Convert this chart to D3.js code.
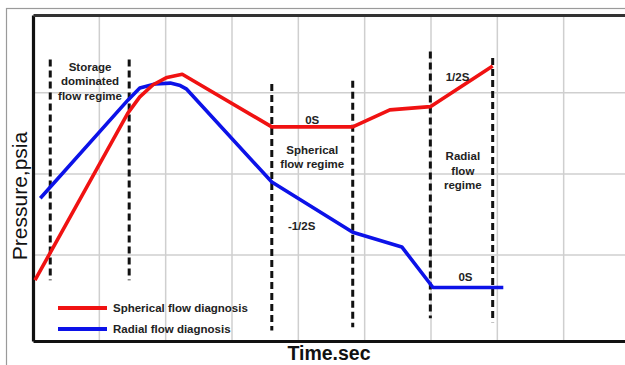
<!DOCTYPE html>
<html>
<head>
<meta charset="utf-8">
<script src="https://cdn.jsdelivr.net/npm/d3@7"></script>
<style>
  body { margin: 0; background: #fff; }
  text { font-family: "Liberation Sans", Arial, sans-serif; }
</style>
</head>
<body>
<script>
// time (grid units) / pressure (grid units)
var sphericalT = [0.03, 1.43, 1.61, 1.81, 2.02, 2.25, 3.60, 4.82, 5.38, 5.99, 6.93];
var sphericalP = [0.69, 2.75, 2.95, 3.10, 3.19, 3.23, 2.58, 2.58, 2.79, 2.83, 3.33];
var radialT = [0.11, 1.43, 1.61, 1.84, 2.07, 2.22, 2.31, 3.60, 4.82, 5.56, 6.03, 7.09];
var radialP = [1.70, 2.91, 3.06, 3.11, 3.12, 3.09, 3.05, 1.90, 1.28, 1.10, 0.60, 0.60];

// regime boundaries: time, top and bottom of the dashed marker
var boundaryT = [0.26, 1.45, 3.60, 4.82, 5.99, 6.93];
var boundaryTop = [3.41, 3.41, 3.11, 3.15, 3.51, 3.43];
var boundaryBottom = [0.69, 0.69, 0.07, 0.11, 0.22, 0.17];

var gridT = [1, 2, 3, 4, 5, 6, 7, 8, 9];
var gridP = [1, 2, 3];

var seriesNames = ["Spherical flow diagnosis", "Radial flow diagnosis"];
var seriesColors = ["#f01212", "#0c12e8"];

// annotations: lines of text, time, pressure of first baseline
var notes = [
  {lines: ["Storage", "dominated", "flow regime"], t: 0.86, p: 3.27},
  {lines: ["0S"], t: 4.21, p: 2.62},
  {lines: ["Spherical", "flow regime"], t: 4.21, p: 2.25},
  {lines: ["-1/2S"], t: 4.05, p: 1.31},
  {lines: ["1/2S"], t: 6.40, p: 3.15},
  {lines: ["Radial", "flow", "regime"], t: 6.48, p: 2.17},
  {lines: ["0S"], t: 6.52, p: 0.68}
];

var W = 625, H = 365;
var svg = d3.select("body").append("svg")
    .attr("width", W)
    .attr("height", H);

var x = d3.scaleLinear().domain([0, 9]).range([33, 630]);
var y = d3.scaleLinear().domain([-0.06, 3.96]).range([341, 15]);

// outer frame
svg.append("rect")
    .attr("x", 6.5).attr("y", 8.5)
    .attr("width", 640).attr("height", 380)
    .style("fill", "none")
    .style("stroke", "#9a9a9a")
    .style("stroke-width", 1.2);

// grid
svg.append("g").selectAll("line").data(gridT).enter().append("line")
    .attr("x1", function(d) { return x(d); })
    .attr("x2", function(d) { return x(d); })
    .attr("y1", y.range()[1]).attr("y2", y.range()[0])
    .style("stroke", "#cfcfcf")
    .style("stroke-width", 1.5);
svg.append("g").selectAll("line").data(gridP).enter().append("line")
    .attr("y1", function(d) { return y(d); })
    .attr("y2", function(d) { return y(d); })
    .attr("x1", x.range()[0]).attr("x2", W)
    .style("stroke", "#cfcfcf")
    .style("stroke-width", 1.5);

// axes (no ticks drawn in the original)
var bottomAxis = svg.append("g")
    .attr("transform", "translate(0," + y.range()[0] + ")")
    .call(d3.axisBottom(x).tickValues([]).tickSizeOuter(0));
var leftAxis = svg.append("g")
    .attr("transform", "translate(" + x.range()[0] + ",0)")
    .call(d3.axisLeft(y).tickValues([]).tickSizeOuter(0));
var topAxis = svg.append("g")
    .attr("transform", "translate(0," + y.range()[1] + ")")
    .call(d3.axisTop(x).tickValues([]).tickSizeOuter(0));
bottomAxis.select(".domain").style("stroke", "#111").style("stroke-width", 3.2);
leftAxis.select(".domain").style("stroke", "#111").style("stroke-width", 3.2);
topAxis.select(".domain").style("stroke", "#333").style("stroke-width", 3);

// regime boundaries
svg.append("g").selectAll("line").data(boundaryT).enter().append("line")
    .attr("x1", function(d) { return x(d); })
    .attr("x2", function(d) { return x(d); })
    .attr("y1", function(d, i) { return y(boundaryTop[i]); })
    .attr("y2", function(d, i) { return y(boundaryBottom[i]); })
    .style("stroke", "#111")
    .style("stroke-width", 3)
    .style("stroke-dasharray", "7,4");

// series
var line = d3.line()
    .x(function(d) { return x(d[0]); })
    .y(function(d) { return y(d[1]); });
var series = [d3.zip(sphericalT, sphericalP), d3.zip(radialT, radialP)];
// draw radial first so the red curve sits on top near the peak
svg.append("path")
    .datum(series[1])
    .attr("d", line)
    .style("fill", "none")
    .style("stroke", seriesColors[1])
    .style("stroke-width", 3.6)
    .style("stroke-linejoin", "round");
svg.append("path")
    .datum(series[0])
    .attr("d", line)
    .style("fill", "none")
    .style("stroke", seriesColors[0])
    .style("stroke-width", 3.6)
    .style("stroke-linejoin", "round");

// annotations
notes.forEach(function(n) {
    var t = svg.append("text")
        .attr("x", x(n.t))
        .attr("y", y(n.p))
        .attr("text-anchor", "middle")
        .style("font-size", "11.5px")
        .style("font-weight", "bold")
        .style("fill", "#222");
    n.lines.forEach(function(s, i) {
        t.append("tspan")
            .attr("x", x(n.t))
            .attr("dy", i === 0 ? 0 : 14.5)
            .text(s);
    });
});

// legend
var legend = svg.append("g").attr("transform", "translate(58,308)");
seriesNames.forEach(function(name, i) {
    legend.append("line")
        .attr("x1", 0).attr("x2", 49)
        .attr("y1", i * 21).attr("y2", i * 21)
        .style("stroke", seriesColors[i])
        .style("stroke-width", 4);
    legend.append("text")
        .attr("x", 55)
        .attr("y", i * 21 + 4)
        .style("font-size", "11.5px")
        .style("font-weight", "bold")
        .style("fill", "#222")
        .text(name);
});

// axis titles
svg.append("text")
    .attr("x", 329)
    .attr("y", 360)
    .attr("text-anchor", "middle")
    .style("font-size", "19.5px")
    .style("font-weight", "bold")
    .style("fill", "#111")
    .text("Time.sec");
svg.append("text")
    .attr("transform", "translate(27,196) rotate(-90)")
    .attr("text-anchor", "middle")
    .style("font-size", "21px")
    .style("fill", "#111")
    .text("Pressure,psia");
</script>
</body>
</html>
